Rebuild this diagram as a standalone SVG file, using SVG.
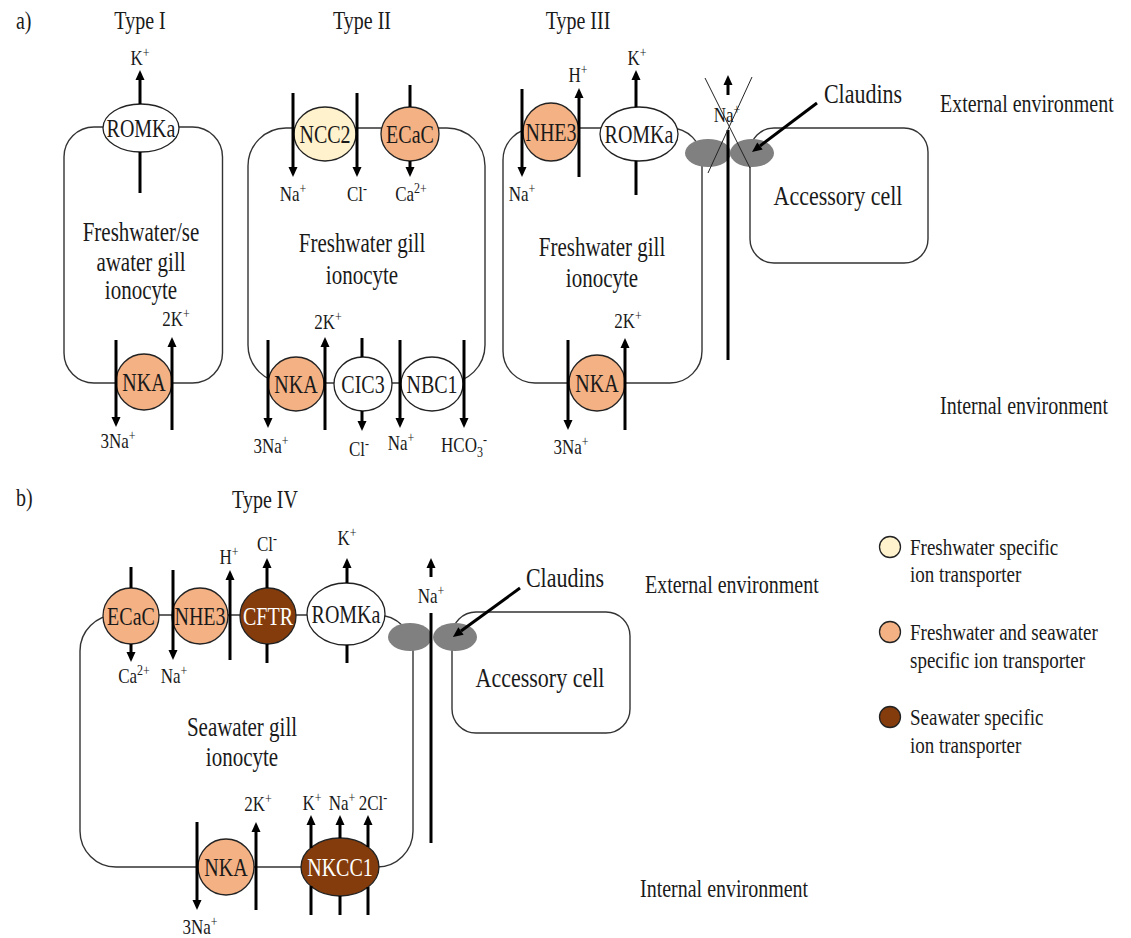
<svg xmlns="http://www.w3.org/2000/svg" width="1131" height="938" viewBox="0 0 1131 938">
<defs>
<marker id="ah" markerUnits="userSpaceOnUse" markerWidth="10" markerHeight="10" refX="0" refY="4.5" orient="auto" overflow="visible"><path d="M0,0 L10,4.5 L0,9 z" fill="#000"/></marker>
</defs>
<style>
text{font-family:"Liberation Serif","Times New Roman",serif;fill:#1a1a1a;transform-box:fill-box;transform-origin:50% 50%;transform:scaleY(1.25)}
.cell{fill:none;stroke:#333;stroke-width:1.4}
.tp{stroke:#222;stroke-width:1.3}
.fw{fill:#FFF2CC}
.both{fill:#F4B183}
.sw{fill:#843C0C}
.wh{fill:#fff}
.cl{fill:#808080}
.arr{stroke:#000;stroke-width:3;fill:none}
.thin{stroke:#222;stroke-width:1;fill:none}
.name{font-size:20px;text-anchor:middle}
.wname{font-size:20px;text-anchor:middle;fill:#fff}
.ion{font-size:17px;text-anchor:middle}
.sup{font-size:12px}
.big{font-size:21px;text-anchor:middle}
.lab{font-size:22px;text-anchor:middle}
.env{font-size:20px}
.title{font-size:20px;text-anchor:middle}
.leg{font-size:19px}
</style>
<rect width="1131" height="938" fill="#fff"/>

<!-- titles -->
<g id="titles">
<text x="16" y="27" class="env">a)</text>
<text x="140" y="27" class="title">Type I</text>
<text x="362" y="27" class="title">Type II</text>
<text x="578" y="27" class="title">Type III</text>
<text x="16" y="504" class="env">b)</text>
<text x="265" y="506" class="title">Type IV</text>
<text x="940" y="110" class="env">External environment</text>
<text x="940" y="412" class="env">Internal environment</text>
<text x="645" y="591" class="env">External environment</text>
<text x="640" y="895" class="env">Internal environment</text>
</g>

<!-- cells -->
<g id="cell-type1">
<rect x="64" y="127" width="158.5" height="256" rx="30" class="cell"/>
<text x="141" y="239" class="big">Freshwater/se</text>
<text x="141" y="269" class="big">awater gill</text>
<text x="141" y="297" class="big">ionocyte</text>
</g>
<g id="cell-type2">
<rect x="248" y="128" width="237" height="255" rx="38" class="cell"/>
<text x="362" y="250" class="big">Freshwater gill</text>
<text x="362" y="282" class="big">ionocyte</text>
</g>
<g id="cell-type3">
<rect x="503" y="128" width="199" height="255" rx="32" class="cell"/>
<text x="602" y="254" class="big">Freshwater gill</text>
<text x="602" y="285" class="big">ionocyte</text>
</g>
<g id="accessory-a">
<rect x="750" y="128" width="178" height="135" rx="24" class="cell"/>
<text x="838" y="203" class="lab">Accessory cell</text>
</g>
<g id="cell-type4">
<rect x="80" y="615" width="333" height="252" rx="36" class="cell"/>
<text x="242" y="734" class="big">Seawater gill</text>
<text x="242" y="764" class="big">ionocyte</text>
</g>
<g id="accessory-b">
<rect x="452" y="612" width="178" height="121" rx="24" class="cell"/>
<text x="540" y="685" class="lab">Accessory cell</text>
</g>

<!-- claudins -->
<g id="claudins-a">
<ellipse cx="708" cy="153" rx="23" ry="14" class="cl"/>
<ellipse cx="752" cy="153" rx="22" ry="14" class="cl"/>
<text x="863" y="101" class="lab">Claudins</text>
</g>
<g id="claudins-b">
<ellipse cx="410" cy="637" rx="22" ry="14" class="cl"/>
<ellipse cx="455" cy="637" rx="22" ry="14" class="cl"/>
<text x="565" y="585" class="lab">Claudins</text>
</g>

<!-- transporters Type I -->
<g id="t1-romka"><ellipse cx="141" cy="128" rx="38" ry="24" class="tp wh"/><text x="141" y="135" class="name">ROMKa</text></g>
<g id="t1-nka"><circle cx="144" cy="382" r="28" class="tp both"/><text x="144" y="389" class="name">NKA</text></g>

<!-- Type II -->
<g id="t2-ncc2"><ellipse cx="325" cy="134" rx="31" ry="27" class="tp fw"/><text x="325" y="141" class="name">NCC2</text></g>
<g id="t2-ecac"><ellipse cx="410" cy="134" rx="29" ry="27" class="tp both"/><text x="410" y="141" class="name">ECaC</text></g>
<g id="t2-nka"><ellipse cx="296" cy="384" rx="28" ry="27" class="tp both"/><text x="296" y="391" class="name">NKA</text></g>
<g id="t2-cic3"><ellipse cx="363" cy="384" rx="29" ry="27" class="tp wh"/><text x="363" y="391" class="name">CIC3</text></g>
<g id="t2-nbc1"><ellipse cx="432" cy="384" rx="31" ry="27" class="tp wh"/><text x="432" y="391" class="name">NBC1</text></g>

<!-- Type III -->
<g id="t3-nhe3"><ellipse cx="551" cy="132" rx="28" ry="29" class="tp both"/><text x="551" y="139" class="name">NHE3</text></g>
<g id="t3-romka"><ellipse cx="639" cy="134" rx="39" ry="27" class="tp wh"/><text x="639" y="141" class="name">ROMKa</text></g>
<g id="t3-nka"><circle cx="597" cy="383" r="28" class="tp both"/><text x="597" y="390" class="name">NKA</text></g>

<!-- Type IV -->
<g id="t4-ecac"><circle cx="131" cy="616" r="28" class="tp both"/><text x="131" y="623" class="name">ECaC</text></g>
<g id="t4-nhe3"><circle cx="200" cy="616" r="28" class="tp both"/><text x="200" y="623" class="name">NHE3</text></g>
<g id="t4-cftr"><circle cx="268" cy="616" r="28" class="tp sw"/><text x="268" y="623" class="wname">CFTR</text></g>
<g id="t4-romka"><ellipse cx="346" cy="614" rx="39" ry="31" class="tp wh"/><text x="346" y="621" class="name">ROMKa</text></g>
<g id="t4-nka"><circle cx="226" cy="867" r="28" class="tp both"/><text x="226" y="874" class="name">NKA</text></g>
<g id="t4-nkcc1"><ellipse cx="340" cy="867" rx="39" ry="29" class="tp sw"/><text x="340" y="874" class="wname">NKCC1</text></g>

<!-- legend -->
<g id="legend">
<circle cx="890" cy="547" r="10.5" class="tp fw"/>
<text x="910" y="553" class="leg">Freshwater specific</text>
<text x="910" y="580" class="leg">ion transporter</text>
<circle cx="890" cy="632" r="10.5" class="tp both"/>
<text x="910" y="638" class="leg">Freshwater and seawater</text>
<text x="910" y="666" class="leg">specific ion transporter</text>
<circle cx="890" cy="717" r="10.5" class="tp sw"/>
<text x="910" y="723" class="leg">Seawater specific</text>
<text x="910" y="751" class="leg">ion transporter</text>
</g>

<!-- connectors -->
<g id="connectors">
<!-- Type I -->
<line x1="140" y1="104" x2="140" y2="80" class="arr" marker-end="url(#ah)"/>
<line x1="140" y1="152" x2="140" y2="193" class="arr"/>
<line x1="116" y1="340" x2="116" y2="417" class="arr" marker-end="url(#ah)"/>
<line x1="172" y1="430" x2="172" y2="347" class="arr" marker-end="url(#ah)"/>
<!-- Type II -->
<line x1="293" y1="93" x2="293" y2="167" class="arr" marker-end="url(#ah)"/>
<line x1="357" y1="93" x2="357" y2="167" class="arr" marker-end="url(#ah)"/>
<line x1="410" y1="85" x2="410" y2="107" class="arr"/>
<line x1="410" y1="161" x2="410" y2="167" class="arr" marker-end="url(#ah)"/>
<line x1="268" y1="340" x2="268" y2="418" class="arr" marker-end="url(#ah)"/>
<line x1="325" y1="430" x2="325" y2="347" class="arr" marker-end="url(#ah)"/>
<line x1="362" y1="338" x2="362" y2="357" class="arr"/>
<line x1="362" y1="411" x2="362" y2="421" class="arr" marker-end="url(#ah)"/>
<line x1="400" y1="340" x2="400" y2="418" class="arr" marker-end="url(#ah)"/>
<line x1="464" y1="340" x2="464" y2="418" class="arr" marker-end="url(#ah)"/>
<!-- Type III -->
<line x1="522" y1="89" x2="522" y2="167" class="arr" marker-end="url(#ah)"/>
<line x1="579" y1="177" x2="579" y2="98" class="arr" marker-end="url(#ah)"/>
<line x1="636" y1="107" x2="636" y2="80" class="arr" marker-end="url(#ah)"/>
<line x1="636" y1="161" x2="636" y2="195" class="arr"/>
<line x1="568" y1="340" x2="568" y2="420" class="arr" marker-end="url(#ah)"/>
<line x1="625" y1="430" x2="625" y2="348" class="arr" marker-end="url(#ah)"/>
<line x1="728" y1="130" x2="728" y2="360" class="arr"/>
<line x1="728" y1="95" x2="728" y2="85" class="arr" marker-end="url(#ah)"/>
<line x1="705" y1="78" x2="750" y2="168" class="thin"/>
<line x1="752" y1="77" x2="708" y2="173" class="thin"/>
<line x1="817" y1="103" x2="760" y2="146" class="arr" stroke-width="2.6" marker-end="url(#ah)"/>
<!-- Type IV -->
<line x1="131" y1="567" x2="131" y2="588" class="arr"/>
<line x1="131" y1="644" x2="131" y2="652" class="arr" marker-end="url(#ah)"/>
<line x1="173" y1="570" x2="173" y2="650" class="arr" marker-end="url(#ah)"/>
<line x1="230" y1="660" x2="230" y2="580" class="arr" marker-end="url(#ah)"/>
<line x1="267" y1="588" x2="267" y2="568" class="arr" marker-end="url(#ah)"/>
<line x1="267" y1="644" x2="267" y2="663" class="arr"/>
<line x1="347" y1="583" x2="347" y2="568" class="arr" marker-end="url(#ah)"/>
<line x1="347" y1="645" x2="347" y2="663" class="arr"/>
<line x1="431" y1="613" x2="431" y2="843" class="arr"/>
<line x1="431" y1="577" x2="431" y2="568" class="arr" marker-end="url(#ah)"/>
<line x1="520" y1="588" x2="461" y2="631" class="arr" stroke-width="2.6" marker-end="url(#ah)"/>
<line x1="197" y1="822" x2="197" y2="900" class="arr" marker-end="url(#ah)"/>
<line x1="256" y1="910" x2="256" y2="832" class="arr" marker-end="url(#ah)"/>
<line x1="311" y1="915" x2="311" y2="886" class="arr"/>
<line x1="311" y1="848" x2="311" y2="825" class="arr" marker-end="url(#ah)"/>
<line x1="340" y1="915" x2="340" y2="896" class="arr"/>
<line x1="340" y1="838" x2="340" y2="825" class="arr" marker-end="url(#ah)"/>
<line x1="368" y1="915" x2="368" y2="887" class="arr"/>
<line x1="368" y1="847" x2="368" y2="825" class="arr" marker-end="url(#ah)"/>
</g>

<!-- ion labels -->
<g id="ion-labels">
<text x="140" y="63" class="ion">K<tspan class="sup" dy="-6">+</tspan></text>
<text x="176" y="324" class="ion">2K<tspan class="sup" dy="-6">+</tspan></text>
<text x="118" y="446" class="ion">3Na<tspan class="sup" dy="-6">+</tspan></text>

<text x="293" y="199" class="ion">Na<tspan class="sup" dy="-6">+</tspan></text>
<text x="357" y="199" class="ion">Cl<tspan class="sup" dy="-6">-</tspan></text>
<text x="411" y="199" class="ion">Ca<tspan class="sup" dy="-6">2+</tspan></text>
<text x="328" y="327" class="ion">2K<tspan class="sup" dy="-6">+</tspan></text>
<text x="271" y="451" class="ion">3Na<tspan class="sup" dy="-6">+</tspan></text>
<text x="359" y="454" class="ion">Cl<tspan class="sup" dy="-6">-</tspan></text>
<text x="401" y="448" class="ion">Na<tspan class="sup" dy="-6">+</tspan></text>
<text x="464" y="451" class="ion">HCO<tspan class="sup" dy="4">3</tspan><tspan class="sup" dy="-11">-</tspan></text>

<text x="578" y="80" class="ion">H<tspan class="sup" dy="-6">+</tspan></text>
<text x="637" y="63" class="ion">K<tspan class="sup" dy="-6">+</tspan></text>
<text x="522" y="199" class="ion">Na<tspan class="sup" dy="-6">+</tspan></text>
<text x="727" y="120" class="ion">Na<tspan class="sup" dy="-6">+</tspan></text>
<text x="628" y="326" class="ion">2K<tspan class="sup" dy="-6">+</tspan></text>
<text x="571" y="452" class="ion">3Na<tspan class="sup" dy="-6">+</tspan></text>

<text x="229" y="562" class="ion">H<tspan class="sup" dy="-6">+</tspan></text>
<text x="267" y="549" class="ion">Cl<tspan class="sup" dy="-6">-</tspan></text>
<text x="347" y="543" class="ion">K<tspan class="sup" dy="-6">+</tspan></text>
<text x="134" y="681" class="ion">Ca<tspan class="sup" dy="-6">2+</tspan></text>
<text x="174" y="681" class="ion">Na<tspan class="sup" dy="-6">+</tspan></text>
<text x="431" y="601" class="ion">Na<tspan class="sup" dy="-6">+</tspan></text>
<text x="258" y="809" class="ion">2K<tspan class="sup" dy="-6">+</tspan></text>
<text x="312" y="808" class="ion">K<tspan class="sup" dy="-6">+</tspan></text>
<text x="342" y="808" class="ion">Na<tspan class="sup" dy="-6">+</tspan></text>
<text x="373" y="808" class="ion">2Cl<tspan class="sup" dy="-6">-</tspan></text>
<text x="200" y="932" class="ion">3Na<tspan class="sup" dy="-6">+</tspan></text>
</g>
</svg>
